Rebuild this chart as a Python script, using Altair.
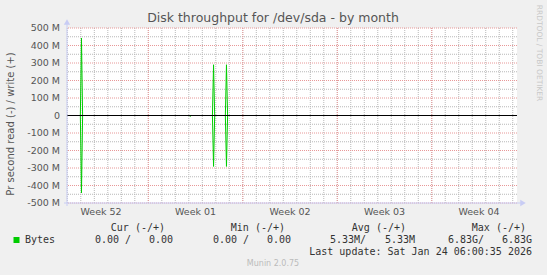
import altair as alt
import pandas as pd

# ---------------- data ----------------
x_start = "2025-12-22T23:25:00"
x_end = "2026-01-25T07:35:00"

# write (+) samples, bytes per second
write_times = ["2025-12-22T23:25:00", "2025-12-23T23:10:00", "2025-12-24T01:10:00", "2025-12-24T03:10:00",
               "2026-01-02T18:00:00", "2026-01-02T20:00:00", "2026-01-02T22:00:00",
               "2026-01-03T17:00:00", "2026-01-03T19:00:00", "2026-01-03T21:00:00",
               "2026-01-24T06:00:00"]
write_values = [0, 0, 443e6, 0, 0, 290e6, 0, 0, 290e6, 0, 0]

# read (-) samples, bytes per second (drawn below zero)
read_times = ["2025-12-22T23:25:00", "2025-12-23T23:10:00", "2025-12-24T01:10:00", "2025-12-24T03:10:00",
              "2026-01-01T00:40:00", "2026-01-01T02:40:00", "2026-01-01T04:40:00",
              "2026-01-02T18:00:00", "2026-01-02T20:00:00", "2026-01-02T22:00:00",
              "2026-01-03T17:00:00", "2026-01-03T19:00:00", "2026-01-03T21:00:00",
              "2026-01-24T06:00:00"]
read_values = [0, 0, -443e6, 0, 0, -5e6, 0, 0, -291e6, 0, 0, -291e6, 0, 0]

y_major = [-500e6, -400e6, -300e6, -200e6, -100e6, 0, 100e6, 200e6, 300e6, 400e6, 500e6]
y_major_labels = ["-500 M", "-400 M", "-300 M", "-200 M", "-100 M", "0",
                  "100 M", "200 M", "300 M", "400 M", "500 M"]
y_minor = [-450e6, -350e6, -250e6, -150e6, -50e6, 50e6, 150e6, 250e6, 350e6, 450e6]

week_starts = ["2025-12-29", "2026-01-05", "2026-01-12", "2026-01-19"]
week_label_times = ["2025-12-25T12:00:00", "2026-01-01T12:00:00", "2026-01-08T12:00:00",
                    "2026-01-15T12:00:00", "2026-01-22T12:00:00"]
week_labels = ["Week 52", "Week 01", "Week 02", "Week 03", "Week 04"]
day_lines = [d.strftime("%Y-%m-%d") for d in pd.date_range("2025-12-23", "2026-01-25", freq="D")]

title_text = "Disk throughput for /dev/sda - by month"
y_title = "Pr second read (-) / write (+)"
legend_headers = ["Cur (-/+)", "Min (-/+)", "Avg (-/+)", "Max (-/+)"]
legend_neg = ["0.00 /", "0.00 /", "5.33M/", "6.83G/"]
legend_pos = ["0.00", "0.00", "5.33M", "6.83G"]
series_name = "Bytes"
last_update = "Last update: Sat Jan 24 06:00:35 2026"
footer = "Munin 2.0.75"
side_text = "RRDTOOL / TOBI OETIKER"

# ---------------- layout ----------------
PL, PT = 67, 28
W, H = 450, 175
GREEN = "#00CC00"
AXISC = "#C8CCF4"
SANS = "DejaVu Sans"
MONO = "DejaVu Sans Mono"

xscale = alt.Scale(type="utc", domain=[x_start, x_end])
yscale = alt.Scale(domain=[-500e6, 500e6], nice=False, zero=False)

one = pd.DataFrame({"a": [0]})


def txt(s, x, y, size=10, align="left", color="#333333", font=SANS, angle=0, baseline="middle"):
    return alt.Chart(one).mark_text(text=s, align=align, baseline=baseline, fontSize=size,
                                    color=color, font=font, angle=angle).encode(
        x=alt.value(x - PL), y=alt.value(y - PT))


day_df = pd.DataFrame({"t": pd.to_datetime(day_lines)})
week_df = pd.DataFrame({"t": pd.to_datetime(week_starts)})
ymin_df = pd.DataFrame({"v": y_minor})
ymaj_df = pd.DataFrame({"v": y_major, "label": y_major_labels})
lines_df = pd.concat([
    pd.DataFrame({"t": pd.to_datetime(write_times), "v": write_values, "s": "write"}),
    pd.DataFrame({"t": pd.to_datetime(read_times), "v": read_values, "s": "read"}),
])
wl_df = pd.DataFrame({"t": pd.to_datetime(week_label_times), "label": week_labels})

X = lambda: alt.X("t:T", scale=xscale, axis=None)
Y = lambda: alt.Y("v:Q", scale=yscale, axis=None)

GRAY = "#B8B8B8"
RED = "#E89898"
day_grid = alt.Chart(day_df).mark_rule(color=GRAY, strokeDash=[1, 1], strokeWidth=1).encode(x=X())
minor_h = alt.Chart(ymin_df).mark_rule(color=GRAY, strokeDash=[1, 1], strokeWidth=1).encode(y=Y())
week_grid = alt.Chart(week_df).mark_rule(color=RED, strokeDash=[1, 1], strokeWidth=1).encode(x=X())
major_h = alt.Chart(ymaj_df).mark_rule(color=RED, strokeDash=[1, 1], strokeWidth=1).encode(y=Y())
y_labels = alt.Chart(ymaj_df).mark_text(align="right", baseline="middle", font=SANS, fontSize=9.5,
                                        color="#555555").encode(
    y=Y(), x=alt.value(-7), text="label:N")

data_lines = alt.Chart(lines_df).mark_line(color=GREEN, strokeWidth=1, interpolate="linear").encode(
    x=X(), y=Y(), detail="s:N", order="t:T")

zero_df = pd.DataFrame({"v": [0]})
zero_line = alt.Chart(zero_df).mark_rule(color="#000000", strokeWidth=1).encode(y=Y())

left_axis = alt.Chart(one).mark_rule(color=AXISC, strokeWidth=1).encode(
    x=alt.value(0), y=alt.value(H + 3), y2=alt.value(-4))
bottom_axis = alt.Chart(one).mark_rule(color=AXISC, strokeWidth=1).encode(
    x=alt.value(-3), x2=alt.value(W + 4), y=alt.value(H))
up_arrow = alt.Chart(one).mark_point(shape="triangle-up", filled=True, size=40, color=AXISC, opacity=1).encode(
    x=alt.value(0), y=alt.value(-6))
right_arrow = alt.Chart(one).mark_point(shape="triangle-right", filled=True, size=40, color=AXISC, opacity=1).encode(
    x=alt.value(W + 6), y=alt.value(H))

week_text = alt.Chart(wl_df).mark_text(fontSize=9.5, font=SANS, color="#555555", baseline="middle").encode(
    x=X(), y=alt.value(H + 9), text="label:N")

texts = [
    txt(title_text, 273, 18, size=12.5, align="center", color="#555555"),
    txt(y_title, 11, 124, size=10, align="center", color="#555555", angle=270),
    txt(side_text, 539, 53, size=7.5, align="center", color="#C8C8C8", angle=90),
    txt(series_name, 25, 240, size=10, font=MONO),
    txt(last_update, 532, 252, size=10, align="right", font=MONO),
    txt(footer, 273, 264, size=8, align="center", color="#BBBBBB"),
]
header_ends = [165, 285, 406, 526]
neg_ends = [131, 249, 366, 484]
pos_ends = [173, 291, 415, 532]
for h, xe in zip(legend_headers, header_ends):
    texts.append(txt(h, xe, 228, size=10, align="right", font=MONO))
for s, xe in zip(legend_neg, neg_ends):
    texts.append(txt(s, xe, 240, size=10, align="right", font=MONO))
for s, xe in zip(legend_pos, pos_ends):
    texts.append(txt(s, xe, 240, size=10, align="right", font=MONO))

swatch = alt.Chart(one).mark_square(filled=True, color=GREEN, size=36, opacity=1).encode(
    x=alt.value(16.5 - PL), y=alt.value(240 - PT))

chart = alt.layer(
    day_grid, minor_h, week_grid, major_h, y_labels, data_lines, zero_line,
    left_axis, bottom_axis, up_arrow, right_arrow, week_text, swatch, *texts
).properties(
    width=W, height=H,
    autosize=alt.AutoSizeParams(type="none"),
    padding={"left": PL, "top": PT, "right": 547 - PL - W, "bottom": 275 - PT - H},
    background="#F0F0F0",
).configure_view(fill="white", stroke=None)

chart.save("out.html", embed_options={"renderer": "svg", "actions": False})
